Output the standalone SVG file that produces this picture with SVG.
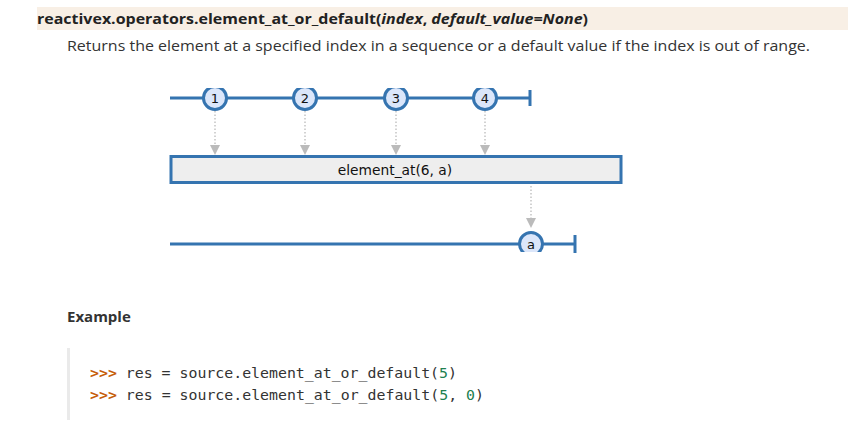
<svg xmlns="http://www.w3.org/2000/svg" width="848" height="431" viewBox="0 0 848 431">
<defs>
<style>
.hdr{font-family:"Open Sans","Noto Sans","DejaVu Sans",sans-serif;font-size:15px;font-weight:bold;fill:#222}
.desc{font-family:"Open Sans","Noto Sans",sans-serif;font-size:15px;fill:#333}
.tl{stroke:#3574b0;stroke-width:3;fill:none}
.mb circle{fill:#dbe6fa;stroke:#3574b0;stroke-width:3}
.mb text{font-family:"DejaVu Sans",sans-serif;font-size:13px;fill:#111;text-anchor:middle}
.dot{stroke:#bbbbbb;stroke-width:1.3;stroke-dasharray:1.5 2;fill:none}
.ah{fill:#bbbbbb}
.code{font-family:"DejaVu Sans Mono","Liberation Mono",monospace;font-size:14.5px;fill:#333}
.pr{fill:#c65d09;font-weight:bold}
.num{fill:#208050}
</style>
<clipPath id="ctop"><rect x="0" y="88" width="848" height="200"/></clipPath>
<clipPath id="cbot"><rect x="0" y="200" width="848" height="52"/></clipPath>
</defs>
<rect x="37" y="7" width="811" height="23" fill="#f8efe5"/>
<text class="hdr" x="37" y="24" textLength="551" lengthAdjust="spacingAndGlyphs">reactivex.operators.element_at_or_default(<tspan font-style="italic">index</tspan>, <tspan font-style="italic">default_value=None</tspan>)</text>
<text class="desc" x="67" y="51" textLength="743" lengthAdjust="spacingAndGlyphs">Returns the element at a specified index in a sequence or a default value if the index is out of range.</text>

<g id="source-timeline">
<line class="tl" x1="170" y1="98" x2="530" y2="98"/>
<line class="tl" x1="530" y1="90" x2="530" y2="106"/>
</g>
<g id="connectors">
<line class="dot" x1="215" y1="111" x2="215" y2="145"/>
<polygon class="ah" points="210,145 220,145 215,155"/>
<line class="dot" x1="305" y1="111" x2="305" y2="145"/>
<polygon class="ah" points="300,145 310,145 305,155"/>
<line class="dot" x1="396" y1="111" x2="396" y2="145"/>
<polygon class="ah" points="391,145 401,145 396,155"/>
<line class="dot" x1="485" y1="111" x2="485" y2="145"/>
<polygon class="ah" points="480,145 490,145 485,155"/>
<line class="dot" x1="531" y1="186" x2="531" y2="218"/>
<polygon class="ah" points="526,218 536,218 531,228"/>
</g>
<g id="m1" class="mb" clip-path="url(#ctop)"><circle cx="215" cy="98" r="11.5"/><text x="215" y="102.5">1</text></g>
<g id="m2" class="mb" clip-path="url(#ctop)"><circle cx="305" cy="98" r="11.5"/><text x="305" y="102.5">2</text></g>
<g id="m3" class="mb" clip-path="url(#ctop)"><circle cx="396" cy="98" r="11.5"/><text x="396" y="102.5">3</text></g>
<g id="m4" class="mb" clip-path="url(#ctop)"><circle cx="485" cy="98" r="11.5"/><text x="485" y="102.5">4</text></g>

<g id="operator">
<rect x="171" y="156.5" width="450" height="26" fill="#eeeeee" stroke="#3574b0" stroke-width="3"/>
<text x="395" y="175" font-family="DejaVu Sans,sans-serif" font-size="13.8" fill="#111" text-anchor="middle">element_at(6, a)</text>
</g>

<g id="result-timeline">
<line class="tl" x1="170" y1="244" x2="575" y2="244"/>
<line class="tl" x1="575" y1="235" x2="575" y2="253"/>
</g>
<g id="ma" class="mb" clip-path="url(#cbot)"><circle cx="531" cy="244" r="11.5"/><text x="531" y="249">a</text></g>

<text x="67" y="322" font-family="Open Sans,Noto Sans,sans-serif" font-size="15" font-weight="bold" fill="#333">Example</text>
<rect x="67" y="348" width="3" height="72" fill="#eaeaea"/>
<text class="code" x="90" y="378" textLength="367" lengthAdjust="spacingAndGlyphs"><tspan class="pr">&gt;&gt;&gt;</tspan> res = source.element_at_or_default(<tspan class="num">5</tspan>)</text>
<text class="code" x="90" y="400" textLength="394" lengthAdjust="spacingAndGlyphs"><tspan class="pr">&gt;&gt;&gt;</tspan> res = source.element_at_or_default(<tspan class="num">5</tspan>, <tspan class="num">0</tspan>)</text>
</svg>
